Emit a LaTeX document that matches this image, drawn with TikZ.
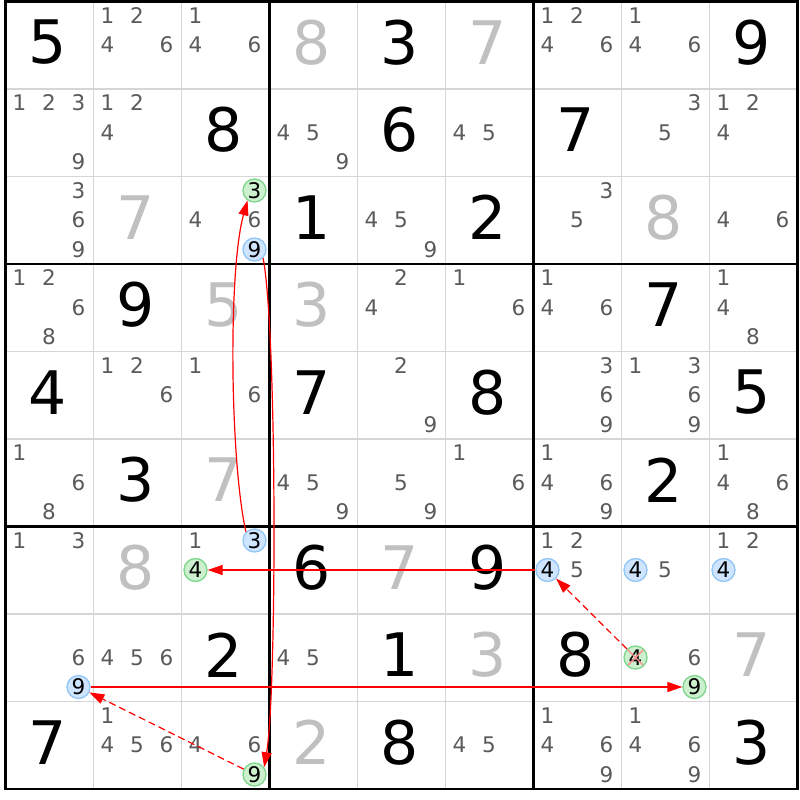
\documentclass[tikz,border=0pt]{standalone}
\usepackage{fontspec}
\setmainfont{DejaVu Sans}
\usetikzlibrary{arrows.meta}
\definecolor{candgrey}{RGB}{90,90,90}
\definecolor{solvedgrey}{RGB}{192,192,192}
\definecolor{thingrid}{RGB}{214,214,214}
\definecolor{gfill}{RGB}{204,240,206}
\definecolor{gline}{RGB}{125,214,140}
\definecolor{bfill}{RGB}{206,228,255}
\definecolor{bline}{RGB}{145,198,245}
\definecolor{xpink}{RGB}{255,140,140}
\definecolor{arrred}{RGB}{255,0,0}
\tikzset{
  givenst/.style={font=\fontsize{60}{60}\selectfont, text=black, inner sep=0pt},
  solvedst/.style={font=\fontsize{60}{60}\selectfont, text=solvedgrey, inner sep=0pt},
  candst/.style={font=\fontsize{21.5}{21.5}\selectfont, text=candgrey, inner sep=0pt},
  hlbase/.style={circle, line width=1.3pt, minimum size=23pt, inner sep=0pt, text=black, font=\fontsize{21.5}{21.5}\selectfont},
  gcirc/.style={hlbase, draw=gline, fill=gfill},
  bcirc/.style={hlbase, draw=bline, fill=bfill},
  thinline/.style={draw=thingrid, line width=1.4pt},
  thickline/.style={draw=black, line width=2.6pt},
  arr/.style={draw=arrred, line width=1.2pt, -{Triangle[length=15pt,width=10pt]}},
  dashy/.style={dash pattern=on 7pt off 4pt},
  crossx/.style={draw=xpink, line width=1.4pt}
}
\newcommand\givenD[3]{\node[givenst] (v-#1-#2) at ({5.5+88*(#2-1)+42},{1.5+87.5*(#1-1)+41}) {#3};}
\newcommand\solvedD[3]{\node[solvedst] (v-#1-#2) at ({5.5+88*(#2-1)+42},{1.5+87.5*(#1-1)+41}) {#3};}
\newcommand\candsD[3]{\foreach \dg in {#3}{%
  \pgfmathtruncatemacro\cc{mod(\dg-1,3)}%
  \pgfmathtruncatemacro\rr{(\dg-1)/3}%
  \node[candst] (k-#1-#2-\dg) at ({5.5+88*(#2-1)+14+29.5*\cc},{1.5+87.5*(#1-1)+14+29.5*\rr}) {\dg};}}
\newcommand\hlD[5]{%
  \pgfmathtruncatemacro\cc{mod(#5-1,3)}%
  \pgfmathtruncatemacro\rr{(#5-1)/3}%
  \node[#1] (#2) at ({5.5+88*(#4-1)+14+29.5*\cc},{1.5+87.5*(#3-1)+14+29.5*\rr}) {#5};}
\begin{document}
\begin{tikzpicture}[x=1pt,y=-1pt]
\useasboundingbox (0,0) rectangle (800,800);
\fill[white] (0,0) rectangle (800,800);
% grid
\foreach \i in {1,2,4,5,7,8}{
  \draw[thinline] ({5.5+88*\i},1.5) -- ({5.5+88*\i},789);
  \draw[thinline] (5.5,{1.5+87.5*\i}) -- (797.5,{1.5+87.5*\i});
}
\foreach \i in {0,3,6,9}{
  \draw[thickline] ({5.5+88*\i},0.2) -- ({5.5+88*\i},790.3);
  \draw[thickline] (4.2,{1.5+87.5*\i}) -- (798.8,{1.5+87.5*\i});
}
% row 1
\givenD{1}{1}{5} \candsD{1}{2}{1,2,4,6} \candsD{1}{3}{1,4,6}
\solvedD{1}{4}{8} \givenD{1}{5}{3} \solvedD{1}{6}{7}
\candsD{1}{7}{1,2,4,6} \candsD{1}{8}{1,4,6} \givenD{1}{9}{9}
% row 2
\candsD{2}{1}{1,2,3,9} \candsD{2}{2}{1,2,4} \givenD{2}{3}{8}
\candsD{2}{4}{4,5,9} \givenD{2}{5}{6} \candsD{2}{6}{4,5}
\givenD{2}{7}{7} \candsD{2}{8}{3,5} \candsD{2}{9}{1,2,4}
% row 3
\candsD{3}{1}{3,6,9} \solvedD{3}{2}{7} \candsD{3}{3}{4,6}
\givenD{3}{4}{1} \candsD{3}{5}{4,5,9} \givenD{3}{6}{2}
\candsD{3}{7}{3,5} \solvedD{3}{8}{8} \candsD{3}{9}{4,6}
% row 4
\candsD{4}{1}{1,2,6,8} \givenD{4}{2}{9} \solvedD{4}{3}{5}
\solvedD{4}{4}{3} \candsD{4}{5}{2,4} \candsD{4}{6}{1,6}
\candsD{4}{7}{1,4,6} \givenD{4}{8}{7} \candsD{4}{9}{1,4,8}
% row 5
\givenD{5}{1}{4} \candsD{5}{2}{1,2,6} \candsD{5}{3}{1,6}
\givenD{5}{4}{7} \candsD{5}{5}{2,9} \givenD{5}{6}{8}
\candsD{5}{7}{3,6,9} \candsD{5}{8}{1,3,6,9} \givenD{5}{9}{5}
% row 6
\candsD{6}{1}{1,6,8} \givenD{6}{2}{3} \solvedD{6}{3}{7}
\candsD{6}{4}{4,5,9} \candsD{6}{5}{5,9} \candsD{6}{6}{1,6}
\candsD{6}{7}{1,4,6,9} \givenD{6}{8}{2} \candsD{6}{9}{1,4,6,8}
% row 7
\candsD{7}{1}{1,3} \solvedD{7}{2}{8} \candsD{7}{3}{1}
\givenD{7}{4}{6} \solvedD{7}{5}{7} \givenD{7}{6}{9}
\candsD{7}{7}{1,2,5} \candsD{7}{8}{5} \candsD{7}{9}{1,2}
% row 8
\candsD{8}{1}{6} \candsD{8}{2}{4,5,6} \givenD{8}{3}{2}
\candsD{8}{4}{4,5} \givenD{8}{5}{1} \solvedD{8}{6}{3}
\givenD{8}{7}{8} \candsD{8}{8}{6} \solvedD{8}{9}{7}
% row 9
\givenD{9}{1}{7} \candsD{9}{2}{1,4,5,6} \candsD{9}{3}{4,6}
\solvedD{9}{4}{2} \givenD{9}{5}{8} \candsD{9}{6}{4,5}
\candsD{9}{7}{1,4,6,9} \candsD{9}{8}{1,4,6,9} \givenD{9}{9}{3}
% highlighted candidates
\hlD{gcirc}{hA}{3}{3}{3}
\hlD{bcirc}{hB}{3}{3}{9}
\hlD{bcirc}{hC}{7}{3}{3}
\hlD{gcirc}{hD}{7}{3}{4}
\hlD{bcirc}{hE}{7}{7}{4}
\hlD{bcirc}{hF}{7}{8}{4}
\hlD{bcirc}{hG}{7}{9}{4}
\hlD{bcirc}{hH}{8}{1}{9}
\hlD{gcirc}{hI}{8}{8}{4}
\hlD{gcirc}{hJ}{8}{8}{9}
\hlD{gcirc}{hK}{9}{3}{9}
\draw[crossx, shorten <=1.5pt, shorten >=1.5pt] (hI.north west) -- (hI.south east);
\draw[crossx, shorten <=1.5pt, shorten >=1.5pt] (hI.north east) -- (hI.south west);
% chain arrows
\draw[arr] (hC.north west) .. controls (230,460) and (228,270) .. (hA.235);
\draw[arr] (hB.south east) .. controls (277,330) and (277,690) .. (hK.37);
\draw[arr] (hE) -- (hD);
\draw[arr, dashy] (hI) -- (hE);
\draw[arr] (hH) -- (hJ);
\draw[arr, dashy] (hK) -- (hH);
\end{tikzpicture}
\end{document}
